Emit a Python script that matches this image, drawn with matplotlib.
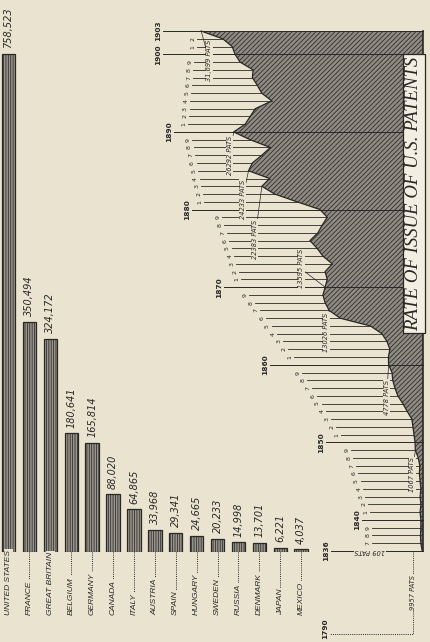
import matplotlib
matplotlib.use('Agg')
import matplotlib.pyplot as plt

# colours of the old print
paper = '#e9e3d0'
ink = '#2a2826'

# total patents granted by country
countries = ['UNITED STATES', 'FRANCE', 'GREAT BRITAIN', 'BELGIUM', 'GERMANY',
             'CANADA', 'ITALY', 'AUSTRIA', 'SPAIN', 'HUNGARY', 'SWEDEN',
             'RUSSIA', 'DENMARK', 'JAPAN', 'MEXICO']
totals = [758523, 350494, 324172, 180641, 165814, 88020, 64865, 33968,
          29341, 24665, 20233, 14998, 13701, 6221, 4037]
total_labels = ['758,523', '350,494', '324,172', '180,641', '165,814', '88,020',
                '64,865', '33,968', '29,341', '24,665', '20,233', '14,998',
                '13,701', '6,221', '4,037']

# U.S. patents issued per year, 1836-1903
years = list(range(1836, 1904))
issued = [109, 300, 350, 300, 300, 400, 300, 400, 300, 400,
          500, 450, 650, 1067, 1100, 1250, 1400, 1550, 2200, 2800,
          3500, 3900, 4200, 4300, 4778, 4800, 4600, 5000, 5700, 7300,
          11500, 13026, 13600, 13900, 13595, 13300, 13600, 12600, 13900, 14700,
          15700, 14600, 14000, 13300, 14300, 17500, 20600, 22383, 21300, 24233,
          23700, 22400, 21200, 24000, 26292, 24700, 24000, 23300, 21000, 22400,
          23000, 23700, 23600, 25400, 26100, 26500, 27800, 30800]

# years with a written figure
noted_years = [1849, 1860, 1867, 1870, 1883, 1885, 1890, 1903]
noted_labels = ['1067 PATS', '4778 PATS', '13026 PATS', '13595 PATS',
                '22383 PATS', '24233 PATS', '26292 PATS', '31,699 PATS']
first_label = '109 PATS'
early_year = '1790'
early_label = '9957 PATS'
title = 'RATE OF ISSUE OF U.S. PATENTS'

# ---- page layout (pixels of the 430x642 page)
W, H = 430, 642
X0 = 423            # px of zero patents on the rate chart
PX_PER_PAT = 7.2 / 1000
Y1836 = 551
PX_PER_YEAR = 7.76


def vx(px):
    return (X0 - px) / PX_PER_PAT


def vy(py):
    return 1836 + (Y1836 - py) / PX_PER_YEAR


# where the year labels sit
decade_px = {1836: 326, 1840: 357, 1850: 321, 1860: 265, 1870: 219,
             1880: 187, 1890: 169, 1900: 158, 1903: 158}
digit_px = {1830: (368, 368), 1840: (366, 347), 1850: (337, 298),
            1860: (290, 245), 1870: (237, 218), 1880: (200, 188),
            1890: (184, 190), 1900: (193, 192)}
# offset of each note from its point (px right, px down)
note_off = [(-3, 7), (-2, 15), (-3, 2), (-24, -38), (-7, 33), (-6, 9), (-4, 4), (8, 9)]

plt.rcParams['hatch.linewidth'] = 0.55
fig = plt.figure(figsize=(W / 100, H / 100), dpi=100)
fig.patch.set_facecolor(paper)

# ---- bar chart of countries
ax_b = fig.add_axes([0.2 / W, 90 / H, 313.5 / W, 552 / H])
ax_b.patch.set_alpha(0)
ax_b.set_axis_off()
pos = list(range(len(countries)))
ax_b.bar(pos, totals, width=0.64, color='#9a958c', edgecolor=ink,
         hatch='|||||||', linewidth=0.9)
ax_b.set_xlim(-0.4, 14.6)
ax_b.set_ylim(0, 840000)
for i, (v, lab) in enumerate(zip(totals, total_labels)):
    ax_b.annotate(lab, (i, v), xytext=(0, 4), textcoords='offset points',
                  rotation=90, ha='center', va='bottom', fontsize=7,
                  style='italic', color=ink)
trans = ax_b.get_xaxis_transform()
lab_y = -63 / 552
for i, name in enumerate(countries):
    ax_b.plot([i, i], [0, lab_y], transform=trans, clip_on=False,
              ls=(0, (1, 1.2)), lw=0.7, color=ink)
    ax_b.text(i, lab_y, name, transform=trans, rotation=90, ha='center',
              va='bottom', fontsize=6.0, style='italic', family='Liberation Sans',
              color=ink, bbox=dict(fc=paper, ec='none', pad=0.6))

# ---- rate of issue chart
ax_t = fig.add_axes([0, 0, 1, 1])
ax_t.patch.set_alpha(0)
ax_t.set_axis_off()
ax_t.set_xlim(vx(0), vx(W))
ax_t.set_ylim(vy(H), vy(0))

ax_t.fill_betweenx(years, issued, 0, facecolor='#8f8a82', edgecolor=ink,
                   hatch='///////', lw=0, zorder=1)
ax_t.plot(issued, years, color=ink, lw=0.9, zorder=3)
ax_t.plot([0, 0], [1836, 1903], color=ink, lw=1.2, zorder=4)

for yr, v in zip(years, issued):
    if yr % 10 == 0 or yr in (1836, 1903):
        lx = decade_px[yr]
        ax_t.text(vx(lx), yr, str(yr), rotation=90, ha='center', va='center',
                  fontsize=5.3, fontweight='bold', color=ink)
        ax_t.plot([vx(lx + 5), 0], [yr, yr], color=ink, lw=0.7, zorder=4)
    else:
        a, b = digit_px[yr // 10 * 10]
        k = yr % 10
        lx = a + (b - a) * (k - 1) / 8
        ax_t.text(vx(lx), yr, str(k), rotation=90, ha='center', va='center',
                  fontsize=4.5, color=ink)
        ax_t.plot([vx(lx + 4), v], [yr, yr], color=ink, lw=0.6, zorder=2)

for yr, lab, (dx, dy) in zip(noted_years, noted_labels, note_off):
    v = issued[years.index(yr)]
    ax_t.annotate(lab, (v, yr), xytext=(dx * 0.72, -dy * 0.72),
                  textcoords='offset points', rotation=90, ha='center', va='top',
                  fontsize=4.8, style='italic', color=ink, zorder=6,
                  bbox=dict(fc=paper, ec='none', pad=0.3),
                  arrowprops=dict(arrowstyle='-', lw=0.5, color=ink,
                                  shrinkA=0, shrinkB=0))

ax_t.text(vx(370), 1836, first_label, rotation=180, ha='center', va='center',
          fontsize=4.8, style='italic', color=ink, zorder=6,
          bbox=dict(fc=paper, ec='none', pad=0.3))

# 1790-1836 bracket
ax_t.plot([vx(413), vx(413), vx(330)], [1836, vy(634), vy(634)],
          ls=(0, (1, 1.2)), lw=0.7, color=ink)
ax_t.text(vx(325), vy(629), early_year, rotation=90, ha='center', va='center',
          fontsize=5.3, fontweight='bold', color=ink)
ax_t.text(vx(413), vy(592), early_label, rotation=90, ha='center', va='center',
          fontsize=4.8, style='italic', color=ink,
          bbox=dict(fc=paper, ec='none', pad=0.3))

fig.text(414 / W, 1 - 193.5 / H, title, rotation=90, ha='center', va='center',
         family='Liberation Serif', style='italic', fontsize=13.5, color=ink,
         zorder=10,
         bbox=dict(boxstyle='square,pad=0.15', fc='#f2eee2', ec=ink, lw=0.9))

fig.savefig('out.png', dpi=100, facecolor=paper)
